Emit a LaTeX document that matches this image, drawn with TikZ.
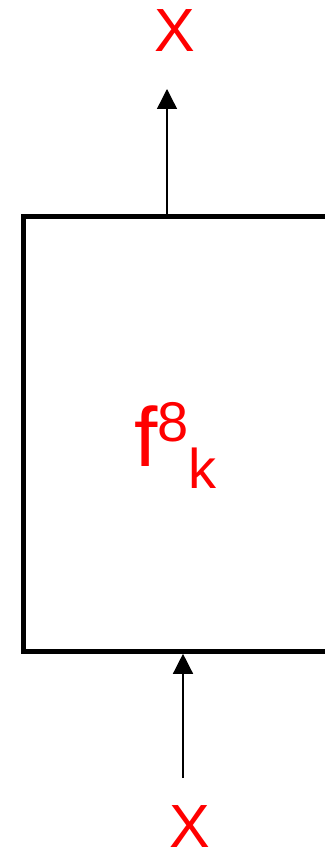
\documentclass[tikz,border=0pt]{standalone}
\usepackage{fontspec}
\setmainfont{Liberation Sans}
\usepackage{tikz}
\usetikzlibrary{arrows.meta}

\begin{document}
\begin{tikzpicture}[x=1pt,y=-1pt,>={Triangle[width=20pt,length=20pt]},
  varlabel/.style={text=red,inner sep=0pt,font=\fontsize{61}{61}\selectfont},
  wire/.style={->,line width=1.4pt}]
  \useasboundingbox (0,0) rectangle (324,861);
  % the block, running off the right edge
  \node[draw,line width=4.6pt,inner sep=0pt,minimum width=377pt,minimum height=435pt] (blk) at (212,434) {};
  \node[text=red,inner sep=0pt,anchor=base west] (fun) at (134,466)
    {\fontsize{84}{84}\selectfont f\fontsize{56}{56}\selectfont\raisebox{25pt}{8}\raisebox{-22pt}{k}};
  % output
  \node[varlabel] (xout) at (175,31) {X};
  \coordinate (outtip) at (167,89);
  \draw[wire] (blk.north -| outtip) -- (outtip);
  % input
  \node[varlabel] (xin) at (190,827) {X};
  \coordinate (intail) at (183,778);
  \draw[wire] (intail) -- (intail |- blk.south);
\end{tikzpicture}
\end{document}
